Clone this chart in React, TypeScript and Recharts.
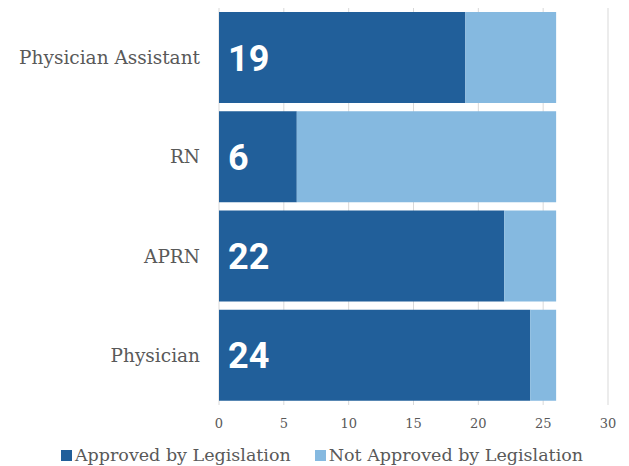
import React from 'react';
import { BarChart, Bar, XAxis, YAxis, CartesianGrid, Legend, LabelList } from 'recharts';

const categories = ['Physician Assistant', 'RN', 'APRN', 'Physician'];
const approved = [19, 6, 22, 24];
const notApproved = [7, 20, 4, 2];
const xTicks = [0, 5, 10, 15, 20, 25, 30];

const DARK = '#215f9a';
const LIGHT = '#85b9e0';
const TEXT = '#595959';
const SERIF = '"DejaVu Serif", serif';

const data = categories.map((c, i) => ({ name: c, approved: approved[i], notApproved: notApproved[i] }));

const renderInnerLabel = (props: any) => {
  const { x, y, height, value } = props;
  return (
    <text
      x={x + 9}
      y={y + height / 2}
      dy={13}
      fill="#ffffff"
      fontFamily="Roboto, sans-serif"
      fontWeight={700}
      fontSize={36}
    >
      {value}
    </text>
  );
};

const renderLegend = () => (
  <div style={{ height: 35, display: 'flex', justifyContent: 'center', alignItems: 'flex-end', fontFamily: SERIF, fontSize: 17.5, color: TEXT, paddingLeft: 36 }}>
    <div style={{ display: 'flex', alignItems: 'center', paddingBottom: 1 }}>
      <span style={{ display: 'inline-block', width: 11, height: 11, background: DARK, marginRight: 3 }} />
      <span style={{ marginRight: 24 }}>Approved by Legislation</span>
      <span style={{ display: 'inline-block', width: 11, height: 11, background: LIGHT, marginRight: 3 }} />
      <span>Not Approved by Legislation</span>
    </div>
  </div>
);

export default function App() {
  return (
    <div style={{ position: 'absolute', left: 0, top: 0, width: 629, height: 466, background: '#fff' }}>
      <BarChart
        width={629}
        height={466}
        data={data}
        layout="vertical"
        margin={{ top: 8, right: 21, bottom: 0, left: 0 }}
        barCategoryGap={4}
      >
        <CartesianGrid horizontal={false} stroke="#d9d9d9" />
        <XAxis
          type="number"
          domain={[0, 30]}
          ticks={xTicks}
          axisLine={false}
          tickLine={false}
          tick={{ fill: TEXT, fontSize: 13, fontFamily: SERIF }}
          tickMargin={8}
          height={26}
        />
        <YAxis
          type="category"
          dataKey="name"
          width={219}
          axisLine={false}
          tickLine={false}
          tickSize={0}
          tickMargin={19}
          tick={{ fill: TEXT, fontSize: 18.5, fontFamily: SERIF }}
        />
        <Legend verticalAlign="bottom" height={35} content={renderLegend} />
        <Bar dataKey="approved" stackId="a" fill={DARK} isAnimationActive={false}>
          <LabelList dataKey="approved" content={renderInnerLabel} />
        </Bar>
        <Bar dataKey="notApproved" stackId="a" fill={LIGHT} isAnimationActive={false} />
      </BarChart>
    </div>
  );
}
